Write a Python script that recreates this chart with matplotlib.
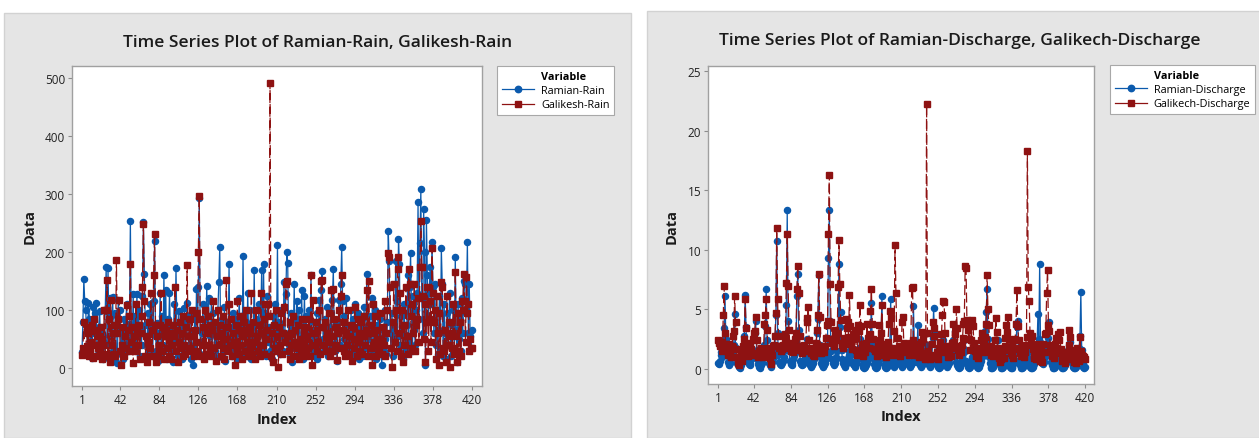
import matplotlib
matplotlib.use("Agg")
import matplotlib.pyplot as plt
from matplotlib.patches import Rectangle
from matplotlib.lines import Line2D

# monthly series, 420 records per station
ramian_rain = [
    28, 80, 153, 115, 100, 62, 40, 112, 85, 30, 75, 18, 105, 60, 95, 113, 40, 25, 70, 98,
    35, 22, 60, 15, 45, 100, 175, 40, 173, 55, 120, 90, 28, 123, 12, 60, 95, 30, 8, 118,
    70, 100, 25, 62, 15, 85, 40, 75, 110, 30, 48, 76, 254, 60, 35, 128, 45, 90, 30, 128,
    55, 100, 20, 68, 40, 125, 252, 162, 75, 18, 50, 95, 30, 110, 60, 112, 20, 115, 219, 55,
    30, 78, 12, 60, 130, 25, 90, 40, 160, 70, 135, 15, 85, 55, 129, 62, 30, 75, 10, 110,
    45, 173, 65, 20, 98, 35, 70, 15, 60, 40, 103, 25, 80, 113, 55, 35, 92, 15, 60, 5,
    40, 85, 30, 136, 65, 140, 293, 45, 20, 60, 110, 25, 85, 40, 142, 70, 120, 30, 55, 115,
    25, 95, 60, 30, 75, 18, 100, 148, 209, 40, 85, 60, 30, 105, 12, 55, 80, 40, 180, 35,
    70, 20, 95, 50, 85, 30, 60, 15, 75, 120, 40, 90, 25, 194, 55, 35, 80, 20, 130, 60,
    45, 100, 15, 70, 35, 169, 50, 85, 25, 60, 110, 40, 75, 169, 30, 179, 55, 95, 20, 125,
    45, 70, 30, 60, 15, 90, 50, 110, 40, 65, 213, 35, 80, 25, 100, 55, 30, 148, 60, 128,
    200, 182, 40, 75, 20, 95, 10, 60, 145, 35, 85, 115, 25, 100, 50, 30, 135, 15, 70, 125,
    40, 90, 20, 55, 100, 35, 160, 60, 25, 80, 45, 30, 95, 15, 70, 118, 40, 135, 168, 50,
    30, 85, 60, 105, 20, 70, 45, 95, 35, 118, 171, 55, 30, 80, 12, 60, 118, 40, 145, 209,
    115, 50, 90, 30, 120, 60, 35, 75, 20, 100, 45, 85, 25, 110, 55, 30, 95, 70, 15, 60,
    40, 85, 20, 105, 35, 70, 163, 50, 25, 90, 60, 20, 120, 45, 30, 100, 15, 75, 55, 25,
    85, 40, 5, 65, 30, 100, 50, 25, 80, 237, 185, 60, 35, 95, 20, 70, 45, 185, 115, 55,
    222, 180, 40, 90, 60, 15, 110, 55, 30, 75, 160, 45, 140, 198, 90, 30, 125, 65, 40, 100,
    130, 286, 85, 215, 308, 120, 60, 274, 200, 5, 256, 160, 90, 130, 175, 110, 218, 140, 60, 145,
    40, 100, 25, 65, 125, 30, 207, 145, 20, 110, 60, 15, 95, 40, 80, 130, 20, 55, 75, 100,
    35, 192, 65, 10, 110, 50, 85, 30, 120, 60, 150, 145, 95, 115, 217, 60, 145, 55, 35, 65,
]

galikesh_rain = [
    22, 35, 80, 30, 25, 70, 38, 60, 20, 30, 45, 75, 18, 85, 40, 65, 20, 35, 55, 30,
    70, 15, 50, 40, 100, 25, 100, 151, 20, 85, 10, 118, 40, 60, 25, 75, 20, 186, 60, 85,
    118, 30, 5, 40, 70, 20, 55, 35, 108, 65, 30, 90, 180, 45, 70, 8, 55, 30, 110, 65,
    40, 75, 15, 60, 90, 140, 249, 115, 20, 55, 10, 45, 80, 35, 130, 20, 65, 160, 232, 75,
    10, 55, 20, 40, 75, 130, 30, 70, 15, 55, 65, 35, 80, 20, 50, 60, 15, 40, 75, 55,
    140, 30, 65, 10, 45, 80, 35, 60, 20, 90, 40, 25, 70, 178, 55, 35, 85, 30, 100, 55,
    20, 65, 45, 95, 30, 200, 296, 85, 20, 40, 70, 15, 100, 25, 60, 90, 40, 30, 75, 20,
    65, 115, 35, 80, 12, 55, 100, 40, 75, 20, 60, 35, 90, 15, 50, 151, 70, 30, 110, 40,
    85, 20, 60, 45, 5, 75, 35, 115, 25, 65, 40, 90, 15, 55, 80, 30, 100, 45, 20, 70,
    35, 60, 130, 25, 80, 45, 15, 100, 55, 30, 75, 20, 130, 60, 40, 85, 25, 110, 50, 65,
    110, 90, 492, 20, 60, 10, 75, 35, 100, 30, 55, 2, 70, 40, 95, 25, 60, 105, 45, 145,
    150, 55, 30, 80, 15, 60, 40, 90, 20, 65, 45, 35, 75, 15, 50, 30, 85, 20, 60, 40,
    70, 25, 55, 35, 85, 20, 160, 5, 118, 60, 40, 80, 30, 65, 45, 100, 25, 150, 152, 70,
    40, 80, 30, 60, 45, 95, 20, 55, 135, 30, 137, 85, 40, 70, 13, 60, 100, 35, 125, 160,
    65, 30, 80, 20, 60, 40, 100, 25, 55, 75, 12, 70, 35, 105, 50, 20, 85, 45, 60, 30,
    80, 25, 55, 90, 40, 65, 135, 20, 150, 60, 35, 75, 5, 110, 45, 90, 20, 65, 40, 30,
    95, 50, 25, 70, 40, 115, 20, 60, 100, 199, 191, 140, 35, 2, 80, 145, 45, 100, 30, 170,
    192, 60, 130, 20, 100, 10, 75, 40, 140, 55, 25, 170, 145, 90, 35, 110, 60, 145, 30, 75,
    85, 120, 45, 175, 254, 175, 125, 50, 110, 10, 80, 140, 30, 85, 115, 45, 207, 130, 80, 100,
    15, 125, 60, 5, 95, 25, 149, 140, 35, 30, 65, 10, 125, 40, 55, 2, 80, 60, 35, 110,
    25, 166, 55, 10, 95, 30, 80, 20, 115, 100, 163, 115, 45, 157, 95, 110, 30, 50, 35, 35,
]

ramian_discharge = [
    0.5, 0.4, 0.7, 1.2, 1.4, 1.0, 1.6, 3.4, 6.1, 2.5, 1.2, 0.6, 0.4, 0.3, 0.5, 0.9, 1.3, 1.5, 2.0, 4.6,
    1.8, 0.9, 0.5, 0.3, 0.2, 0.1, 0.3, 0.6, 1.0, 1.4, 2.8, 6.2, 3.5, 1.2, 0.6, 0.4, 0.3, 0.5, 0.8, 1.1,
    1.5, 2.5, 3.0, 4.0, 1.6, 0.8, 0.4, 0.2, 0.1, 0.3, 0.5, 0.9, 1.3, 2.0, 3.6, 6.7, 2.4, 1.0, 0.5, 0.3,
    0.2, 0.3, 0.6, 0.9, 1.4, 2.0, 4.5, 10.7, 3.0, 1.2, 0.6, 0.4, 0.3, 0.5, 0.7, 1.0, 1.6, 2.2, 5.4, 13.3,
    4.0, 1.5, 0.7, 0.4, 0.3, 0.5, 0.8, 1.1, 1.5, 2.3, 6.1, 8.0, 3.3, 1.4, 0.7, 0.4, 0.3, 0.4, 0.6, 0.9,
    1.3, 1.8, 2.5, 1.0, 0.5, 0.3, 0.2, 0.3, 0.5, 0.8, 1.2, 1.6, 2.2, 3.0, 4.2, 7.9, 2.0, 0.9, 0.5, 0.3,
    0.2, 0.3, 0.5, 0.8, 1.2, 2.5, 9.3, 13.3, 4.0, 1.5, 0.8, 0.5, 0.3, 0.5, 0.7, 1.0, 1.5, 2.6, 8.8, 3.5,
    4.8, 1.6, 0.8, 0.5, 0.3, 0.2, 0.4, 0.6, 0.9, 1.2, 1.5, 2.0, 1.2, 0.6, 0.4, 0.3, 0.2, 0.4, 0.6, 1.0,
    1.4, 1.8, 2.5, 1.6, 0.8, 0.4, 0.2, 0.1, 0.2, 0.3, 0.5, 0.8, 1.2, 2.0, 2.8, 5.5, 2.2, 0.9, 0.4, 0.2,
    0.1, 0.2, 0.4, 0.6, 0.9, 1.3, 2.2, 6.1, 2.0, 0.8, 0.4, 0.2, 0.1, 0.2, 0.3, 0.6, 1.5, 5.9, 1.8, 0.8,
    0.4, 0.2, 0.3, 0.5, 0.8, 1.2, 1.6, 0.9, 0.5, 0.3, 0.2, 0.3, 0.5, 0.9, 1.3, 2.0, 1.2, 0.6, 0.3, 0.2,
    0.3, 0.6, 1.0, 5.3, 2.2, 1.0, 0.6, 1.5, 3.7, 1.2, 0.5, 0.3, 0.2, 0.3, 0.5, 0.8, 1.1, 1.6, 2.0, 1.0,
    0.5, 0.3, 0.2, 0.4, 0.9, 2.6, 5.1, 3.0, 1.2, 0.6, 0.3, 0.2, 0.1, 0.2, 0.4, 0.8, 1.4, 2.4, 1.0, 0.5,
    0.3, 0.2, 0.3, 0.5, 0.8, 1.2, 1.6, 2.0, 2.4, 1.5, 3.2, 1.2, 0.6, 0.3, 0.2, 0.1, 0.2, 0.4, 0.8, 1.3,
    1.8, 2.4, 1.5, 0.7, 0.4, 0.2, 0.1, 0.2, 0.4, 0.7, 1.0, 1.4, 2.1, 1.3, 0.6, 0.3, 0.2, 0.1, 0.2, 0.4,
    0.7, 1.0, 1.4, 2.0, 2.6, 3.2, 4.8, 6.7, 2.5, 1.0, 0.5, 0.2, 0.1, 0.1, 0.2, 0.4, 0.7, 1.1, 1.6, 2.4,
    1.2, 0.6, 0.3, 0.1, 0.1, 0.2, 0.3, 0.5, 0.8, 1.2, 1.5, 0.8, 0.4, 0.2, 0.1, 0.1, 0.2, 0.4, 0.8, 1.5,
    2.4, 3.5, 4.0, 1.6, 0.7, 0.3, 0.1, 0.1, 0.2, 0.3, 0.5, 0.9, 1.3, 1.6, 0.9, 0.4, 0.2, 0.1, 0.1, 0.2,
    0.4, 0.7, 1.0, 1.4, 2.0, 4.6, 2.5, 8.8, 2.2, 1.0, 0.5, 0.4, 0.6, 1.0, 1.5, 2.1, 2.6, 3.2, 3.9, 1.5,
    0.6, 0.3, 0.1, 0.1, 0.2, 0.3, 0.5, 0.8, 1.2, 1.6, 0.8, 0.4, 0.2, 0.1, 0.1, 0.2, 0.3, 0.6, 1.0, 1.6,
    2.0, 1.4, 2.3, 1.0, 0.5, 0.2, 0.1, 0.1, 0.2, 0.3, 0.6, 1.0, 1.8, 2.8, 6.5, 1.6, 0.5, 0.2, 0.1, 0.2,
]

galikech_discharge = [
    2.4, 2.2, 1.9, 2.3, 2.0, 1.5, 4.5, 7.0, 3.0, 2.1, 1.6, 1.2, 1.8, 2.1, 1.4, 1.0, 1.9, 2.8, 3.2, 6.1,
    3.9, 1.7, 1.0, 0.5, 0.3, 0.8, 1.2, 0.7, 1.5, 1.9, 2.5, 5.9, 3.4, 1.8, 1.1, 2.0, 1.4, 2.2, 1.7, 1.2,
    2.5, 3.0, 3.2, 4.4, 2.4, 1.3, 1.0, 1.5, 1.2, 1.8, 1.4, 1.0, 1.7, 3.8, 4.5, 5.9, 3.3, 1.8, 1.2, 0.9,
    0.4, 1.6, 1.2, 1.9, 2.0, 2.8, 4.7, 11.8, 5.9, 2.8, 1.8, 1.9, 1.5, 1.7, 2.0, 1.8, 2.5, 2.9, 7.2, 11.3,
    7.0, 3.3, 2.0, 1.5, 1.7, 2.2, 1.4, 1.9, 2.5, 3.0, 6.7, 8.6, 6.4, 2.8, 1.6, 1.9, 1.3, 1.6, 2.0, 1.5,
    1.8, 3.9, 4.3, 5.2, 2.4, 1.5, 1.3, 1.8, 1.2, 1.6, 1.1, 1.7, 2.2, 3.3, 4.5, 8.0, 4.4, 1.9, 1.3, 1.5,
    1.6, 1.4, 1.9, 2.6, 3.7, 4.0, 11.3, 16.3, 7.1, 3.9, 2.2, 2.5, 1.9, 2.8, 3.3, 2.4, 3.0, 6.9, 10.8, 7.1,
    4.1, 2.2, 2.0, 1.8, 2.6, 2.1, 4.2, 3.4, 3.9, 2.7, 6.2, 3.6, 2.2, 1.7, 2.9, 2.5, 3.3, 2.6, 1.6, 1.2,
    3.7, 3.2, 5.4, 3.6, 2.1, 1.5, 1.1, 1.9, 1.4, 2.2, 3.8, 2.6, 1.8, 2.9, 4.9, 6.7, 3.8, 2.5, 1.7, 1.5,
    1.6, 1.1, 1.9, 1.7, 3.7, 2.4, 3.0, 5.4, 2.1, 1.2, 2.0, 1.5, 1.0, 1.7, 2.3, 3.8, 4.9, 4.3, 1.8, 1.4,
    1.2, 3.2, 10.4, 6.4, 2.6, 1.3, 1.6, 1.9, 1.1, 1.5, 3.9, 4.4, 2.2, 1.8, 1.4, 2.1, 1.6, 2.0, 1.2, 1.9,
    2.2, 6.8, 6.9, 2.4, 1.5, 1.8, 1.2, 2.1, 1.4, 1.0, 1.7, 1.5, 2.3, 3.1, 2.5, 1.3, 0.8, 1.2, 22.2, 3.0,
    1.5, 1.1, 0.8, 1.2, 2.1, 3.9, 3.4, 2.8, 1.1, 0.9, 1.4, 0.8, 1.8, 2.3, 1.4, 2.9, 4.5, 5.7, 5.6, 3.0,
    1.9, 1.4, 1.0, 1.6, 1.3, 1.9, 1.1, 2.2, 3.8, 2.3, 2.9, 1.8, 5.0, 3.4, 1.6, 1.2, 1.9, 1.4, 2.0, 2.6,
    3.8, 4.0, 8.6, 8.5, 4.1, 3.3, 2.5, 3.8, 1.6, 2.4, 4.1, 3.6, 2.2, 1.5, 1.1, 1.8, 1.3, 0.9, 1.5, 1.7,
    2.4, 3.0, 1.8, 1.4, 2.1, 2.7, 3.8, 7.9, 5.0, 3.7, 1.9, 1.5, 1.2, 1.7, 1.1, 1.6, 2.4, 4.3, 3.1, 1.8,
    1.3, 0.9, 0.6, 0.8, 1.1, 1.6, 0.9, 1.9, 2.6, 3.7, 3.1, 4.4, 2.5, 1.6, 1.3, 1.9, 1.2, 0.9, 1.7, 2.5,
    3.8, 6.6, 3.6, 2.4, 1.8, 1.3, 1.1, 1.9, 1.5, 1.0, 1.4, 2.0, 2.7, 18.3, 6.9, 5.7, 3.0, 2.2, 2.8, 1.7,
    1.1, 0.9, 1.4, 0.8, 1.6, 2.1, 1.3, 0.7, 2.0, 0.9, 0.6, 2.1, 1.4, 2.9, 3.0, 6.4, 8.3, 3.7, 3.2, 2.0,
    1.4, 1.1, 1.6, 0.9, 1.3, 2.1, 2.6, 1.8, 2.9, 2.4, 3.1, 1.7, 1.1, 0.7, 1.3, 0.9, 0.5, 1.0, 0.8, 1.4,
    2.0, 3.3, 2.7, 1.6, 0.8, 1.2, 0.6, 0.9, 0.5, 1.3, 1.8, 1.1, 0.7, 2.7, 1.5, 1.2, 0.9, 1.1, 1.0, 0.8,
]

index = list(range(1, len(ramian_rain) + 1))
x_ticks = [1, 42, 84, 126, 168, 210, 252, 294, 336, 378, 420]

BLUE = "#0b5aad"
RED = "#8e1212"
PANEL = "#e5e5e5"
W, H = 1259, 439

plt.rcParams["font.family"] = ["Open Sans", "DejaVu Sans"]

fig = plt.figure(figsize=(W / 100, H / 100), dpi=100)
fig.patch.set_facecolor("white")


def px_box(x0, y0, x1, y1):
    # pixel box (top-left origin) -> figure fraction rect
    return [x0 / W, 1 - y1 / H, (x1 - x0) / W, (y1 - y0) / H]


def panel(x0, y0, x1):
    fig.add_artist(Rectangle((x0 / W, 0), (x1 - x0) / W, 1 - y0 / H,
                             transform=fig.transFigure, facecolor=PANEL,
                             edgecolor="#d2d2d2", lw=1.0, zorder=0))


def series_plot(box, s1, s2, names, title, title_xy, ylim, yticks,
                xlim, leg_xy, ylab_x, xlab_y):
    ax = fig.add_axes(px_box(*box))
    ax.set_facecolor("white")
    ax.plot(index, s1, color=BLUE, lw=0.9, marker="o", ms=4.4,
            mec=BLUE, mfc=BLUE, label=names[0], zorder=3)
    ax.plot(index, s2, color=RED, lw=0.9, ls=(0, (8, 3)), marker="s",
            ms=4.6, mec=RED, mfc=RED, label=names[1], zorder=4)
    ax.set_xlim(*xlim)
    ax.set_ylim(*ylim)
    ax.set_xticks(x_ticks)
    ax.set_yticks(yticks)
    ax.tick_params(length=3, width=0.8, color="#8c8c8c", labelsize=8.5,
                   labelcolor="#222222", pad=2)
    for sp in ax.spines.values():
        sp.set_color("#a0a0a0")
        sp.set_linewidth(1.0)
    fig.text(title_xy[0] / W, 1 - title_xy[1] / H, title, ha="center",
             va="center", fontsize=12.5, fontweight="semibold", color="#1a1a1a")
    fig.text(ylab_x / W, 1 - (box[1] + box[3]) / 2 / H, "Data", rotation=90,
             ha="center", va="center", fontsize=10.5, fontweight="bold",
             color="#1a1a1a")
    fig.text((box[0] + box[2]) / 2 / W, 1 - xlab_y / H, "Index", ha="center",
             va="center", fontsize=10.5, fontweight="bold", color="#1a1a1a")
    # first row is the "Variable" heading, aligned with the entry labels
    handles = [
        Line2D([], [], color="none"),
        Line2D([], [], color=BLUE, lw=0.9, marker="o", ms=4.6),
        Line2D([], [], color=RED, lw=0.9, marker="s", ms=4.8),
    ]
    leg = fig.legend(handles, ["Variable"] + names, loc="upper left",
                     bbox_to_anchor=(leg_xy[0] / W, 1 - leg_xy[1] / H),
                     bbox_transform=fig.transFigure, frameon=True,
                     fancybox=False, edgecolor="#a8a8a8", framealpha=1,
                     fontsize=7.8, handlelength=3.0, handletextpad=0.6,
                     borderpad=0.45, labelspacing=0.3, borderaxespad=0,
                     numpoints=1)
    leg.get_texts()[0].set_fontweight("bold")
    leg.get_frame().set_linewidth(0.8)
    return ax


panel(4, 14, 631)
panel(647, 12, 1262)

series_plot((72, 67, 482, 387), ramian_rain, galikesh_rain,
            ["Ramian-Rain", "Galikesh-Rain"],
            "Time Series Plot of Ramian-Rain, Galikesh-Rain", (318, 43),
            (-31, 521), [0, 100, 200, 300, 400, 500], (-9.7, 430.7),
            (497, 67), 30, 420)

series_plot((708, 67, 1094, 385), ramian_discharge, galikech_discharge,
            ["Ramian-Discharge", "Galikech-Discharge"],
            "Time Series Plot of Ramian-Discharge, Galikech-Discharge", (960, 41),
            (-1.26, 25.42), [0, 5, 10, 15, 20, 25], (-10.4, 430),
            (1110, 66), 672, 417)

fig.savefig("out.png", dpi=100, facecolor="white")
